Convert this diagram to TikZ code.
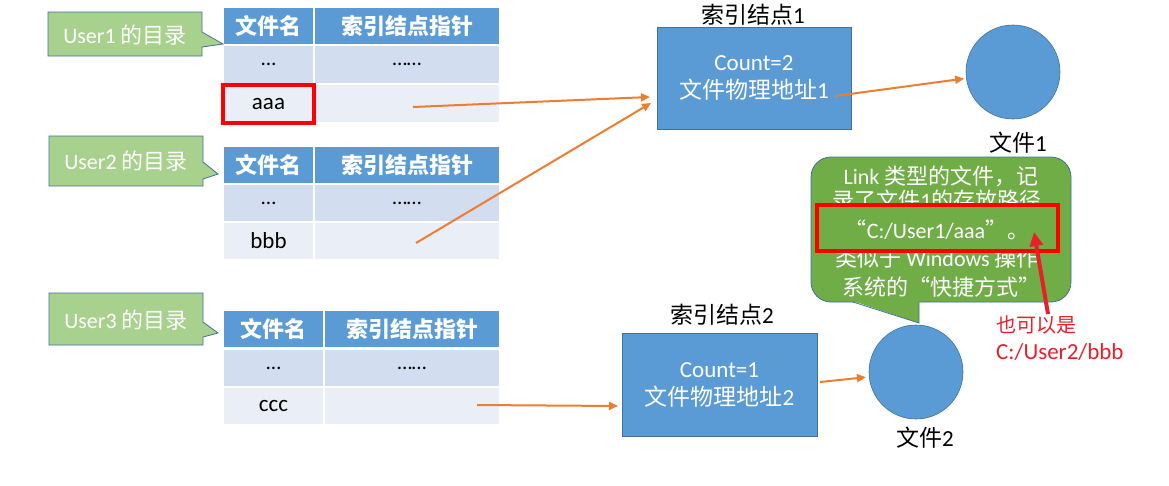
\documentclass[tikz,border=0pt]{standalone}
\usepackage{fontspec}
\setmainfont{Carlito}
\newfontfamily\cjk{Noto Sans CJK SC}
\usetikzlibrary{arrows.meta}
\definecolor{hdrblue}{HTML}{5B9BD5}
\definecolor{rowa}{HTML}{D2DEEF}
\definecolor{rowb}{HTML}{EAEFF7}
\definecolor{bordblue}{HTML}{41719C}
\definecolor{lgreen}{HTML}{A9D18E}
\definecolor{dgreen}{HTML}{70AD47}
\definecolor{orangeA}{HTML}{ED7D31}
\definecolor{redA}{HTML}{FF0000}
\definecolor{redB}{HTML}{E8202A}
\newcommand\zh[1]{{\cjk #1}}
\newcommand\fs[1]{\fontsize{#1}{#1}\selectfont}
\tikzset{
  cellbox/.style={anchor=north west, inner sep=0pt, outer sep=0pt, text=black, font=\fs{23}},
  hdr/.style={cellbox, fill=hdrblue, text=white, font=\fs{22}\cjk\bfseries},
  rowA/.style={cellbox, fill=rowa, font=\fs{21}},
  rowB/.style={cellbox, fill=rowb},
  colone/.style={minimum width=89pt},
  coltwo/.style={minimum width=184pt},
  colthree/.style={minimum width=99pt},
  colfour/.style={minimum width=174pt},
  callout/.style={fill=lgreen, draw=bordblue, line width=0.8pt},
  callouttext/.style={text=white, font=\fs{22}, inner sep=0pt},
  idxbox/.style={fill=hdrblue, draw=bordblue, line width=0.6pt, minimum width=194pt, minimum height=102pt, text=white, font=\fontsize{23}{28}\selectfont, align=center, inner sep=0pt},
  filecirc/.style={circle, fill=hdrblue, draw=bordblue, line width=0.6pt, minimum size=94pt, inner sep=0pt},
  lbl/.style={text=black, font=\fs{23}, inner sep=0pt},
  oarr/.style={draw=orangeA, line width=2pt, -{Triangle[length=9pt,width=8pt]}},
  gtext/.style={text=white, font=\fs{22}, inner sep=0pt},
}
\begin{document}
\begin{tikzpicture}[x=1pt,y=-1pt]
\useasboundingbox (0,0) rectangle (1169,485);

% ---------- table 1 ----------
\node[hdr,colone,minimum height=36pt] (t1h1) at (224,8) {文件名};
\node[hdr,coltwo,minimum height=36pt] (t1h2) at (315,8) {索引结点指针};
\node[rowA,colone,minimum height=37pt] (t1a1) at (224,46) {…};
\node[rowA,coltwo,minimum height=37pt] (t1a2) at (315,46) {……};
\node[rowB,colone,minimum height=37pt] (t1b1) at (224,85) {aaa};
\node[rowB,coltwo,minimum height=37pt] (t1b2) at (315,85) {};
\draw[redA, line width=3.5pt] (223,85) rectangle (314,123);

% ---------- table 2 ----------
\node[hdr,colone,minimum height=36pt] (t2h1) at (224,147) {文件名};
\node[hdr,coltwo,minimum height=36pt] (t2h2) at (315,147) {索引结点指针};
\node[rowA,colone,minimum height=36pt] (t2a1) at (224,185) {…};
\node[rowA,coltwo,minimum height=36pt] (t2a2) at (315,185) {……};
\node[rowB,colone,minimum height=36pt] (t2b1) at (224,223) {bbb};
\node[rowB,coltwo,minimum height=36pt] (t2b2) at (315,223) {};

% ---------- table 3 ----------
\node[hdr,colthree,minimum height=36pt] (t3h1) at (224,311) {文件名};
\node[hdr,colfour,minimum height=36pt] (t3h2) at (325,311) {索引结点指针};
\node[rowA,colthree,minimum height=36pt] (t3a1) at (224,350) {…};
\node[rowA,colfour,minimum height=36pt] (t3a2) at (325,350) {……};
\node[rowB,colthree,minimum height=36pt] (t3b1) at (224,388) {ccc};
\node[rowB,colfour,minimum height=36pt] (t3b2) at (325,388) {};

% ---------- user callouts ----------
\draw[callout] (48,12) -- (202,12) -- (202,32) -- (223,44) -- (202,47) -- (202,56) -- (48,56) -- cycle;
\node[callouttext] (u1) at (125,35) {User1 \zh{的目录}};
\draw[callout] (49,136) -- (203,136) -- (203,162) -- (218,174) -- (203,179) -- (203,186) -- (49,186) -- cycle;
\node[callouttext] (u2) at (126,161) {User2 \zh{的目录}};
\draw[callout] (49,293) -- (203,293) -- (203,322) -- (218,333) -- (203,337) -- (203,345) -- (49,345) -- cycle;
\node[callouttext] (u3) at (126,320) {User3 \zh{的目录}};

% ---------- index nodes ----------
\node[idxbox] (i1) at (754,78) {Count=2\\\zh{文件物理地址}1};
\node[lbl] (i1l) at (753,15) {\zh{索引结点}1};
\node[idxbox, minimum width=195pt, minimum height=103pt] (i2) at (719.5,384.5) {Count=1\\\zh{文件物理地址}2};
\node[lbl] (i2l) at (722,315) {\zh{索引结点}2};

% ---------- files ----------
\node[filecirc] (f1) at (1013,72) {};
\node[lbl] (f1l) at (1018,143) {\zh{文件}1};
\node[filecirc] (f2) at (916,372) {};
\node[lbl] (f2l) at (925,438) {\zh{文件}2};

% ---------- green link callout ----------
\draw[fill=dgreen, draw=bordblue, line width=0.8pt, rounded corners=20pt] (811,157) rectangle (1071,302);
\fill[dgreen] (853,301) -- (919,301) -- (919,323) -- cycle;
\draw[bordblue, line width=0.8pt] (853,302) -- (919,323) -- (919,302);
\node[gtext] (g1) at (941,176) {Link \zh{类型的文件，记}};
\node[gtext] (g2) at (937,200) {\zh{录了文件}1\zh{的存放路径}};
\node[gtext] (g4) at (937,258) {\zh{类似于} Windows \zh{操作}};
\node[gtext] (g5) at (941,287) {\zh{系统的“快捷方式”}};
\node[draw=redA, fill=dgreen, line width=4pt, minimum width=241pt, minimum height=46pt, inner sep=0pt] (rb) at (937.5,228) {};
\node[gtext] (g3) at (937,230) {\zh{“}C:/User1/aaa\zh{”。}};

% ---------- red note ----------
\coordinate (rtail) at (1048,314);
\coordinate (rtip) at (1034,232);
\draw[redB, line width=4pt, -{Triangle[length=14pt,width=13pt]}] (rtail) -- (rtip);
\node[text=redB, font=\fs{20}, anchor=west, inner sep=0pt] (n1) at (996,325) {\zh{也可以是}};
\node[text=redB, font=\fs{23}, anchor=west, inner sep=0pt] (n2) at (996,352) {C:/User2/bbb};

% ---------- orange connectors ----------
\coordinate (s1) at (413,107);
\coordinate (e1) at (650,97);
\coordinate (s2) at (416,243);
\coordinate (e2) at (651,103);
\coordinate (s3) at (477,405);
\coordinate (e3) at (618,406);
\coordinate (s4) at (835,96);
\coordinate (s5) at (820,382);
\draw[oarr] (s1) -- (e1);
\draw[oarr] (s2) -- (e2);
\draw[oarr] (s3) -- (e3);
\draw[oarr, shorten >=2pt] (s4) -- (f1);
\draw[oarr, shorten >=3pt] (s5) -- (f2);
\end{tikzpicture}
\end{document}
